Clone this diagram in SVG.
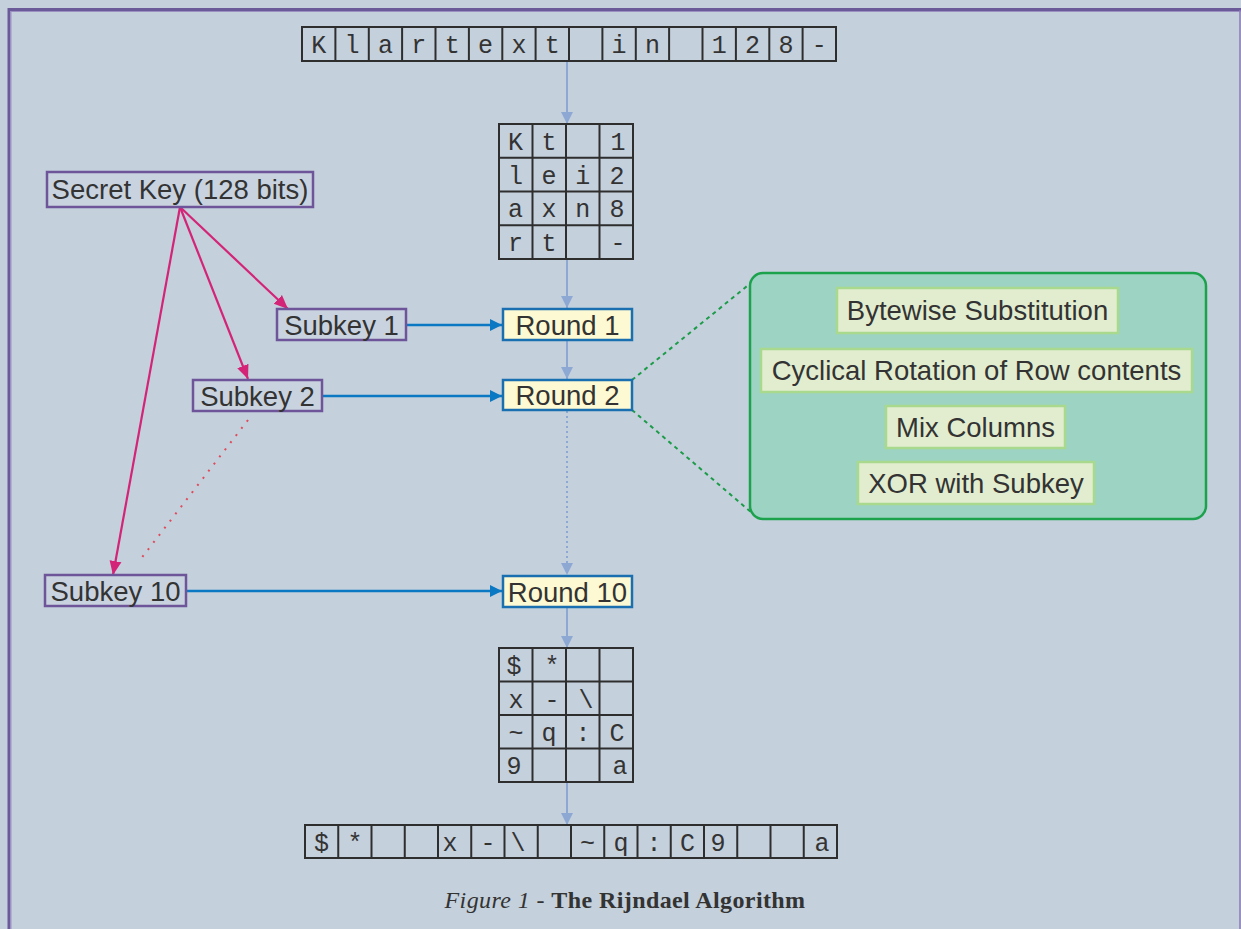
<svg xmlns="http://www.w3.org/2000/svg" width="1241" height="929" viewBox="0 0 1241 929">
<style>
.cell{fill:none;stroke:#2e2e2e;stroke-width:2}
.mono{font-family:"Liberation Mono","DejaVu Sans Mono",monospace;font-size:25px;fill:#333;text-anchor:middle}
.lbl{font-family:"Liberation Sans",Arial,sans-serif;font-size:27.5px;fill:#333;text-anchor:middle}
.key{fill:#c9d3df;stroke:#6e559a;stroke-width:2.5}
.round{fill:#fdf9d2;stroke:#1a6fb0;stroke-width:2.5}
.step{fill:#e2edcf;stroke:#a9d98c;stroke-width:2.5}
.flow{stroke:#8ea8d4;stroke-width:2;fill:none}
.feed{stroke:#0b78c4;stroke-width:2.5;fill:none}
.mag{stroke:#d42478;stroke-width:2.2;fill:none}
</style>
<defs>
<marker id="aLight" markerUnits="userSpaceOnUse" markerWidth="14" markerHeight="14" refX="12" refY="7" orient="auto"><path d="M0,1 L12,7 L0,13 z" fill="#8ea8d4"/></marker>
<marker id="aBlue" markerUnits="userSpaceOnUse" markerWidth="14" markerHeight="14" refX="12" refY="7" orient="auto"><path d="M0,1 L12,7 L0,13 z" fill="#0b78c4"/></marker>
<marker id="aMag" markerUnits="userSpaceOnUse" markerWidth="16" markerHeight="14" refX="14" refY="7" orient="auto"><path d="M0,1 L14,7 L0,13 z" fill="#d42478"/></marker>
</defs>
<rect x="0" y="0" width="1241" height="929" fill="#c4d0dc"/>
<path d="M9,929 V9.5 H1241" fill="none" stroke="#6a5a9a" stroke-width="3"/>
<path d="M11,929 V11.5 H1241" fill="none" stroke="#9c90c2" stroke-width="1"/>
<line x1="1240" y1="10" x2="1240" y2="929" stroke="#8a7cb4" stroke-width="1.5"/>

<g id="connectors">
<line class="flow" x1="567" y1="61" x2="567" y2="124" marker-end="url(#aLight)"/>
<line class="flow" x1="567" y1="259" x2="567" y2="308" marker-end="url(#aLight)"/>
<line class="flow" x1="567" y1="340" x2="567" y2="379" marker-end="url(#aLight)"/>
<line class="flow" x1="567" y1="411" x2="567" y2="575" stroke-dasharray="2 3" marker-end="url(#aLight)"/>
<line class="flow" x1="567" y1="607" x2="567" y2="648" marker-end="url(#aLight)"/>
<line class="flow" x1="567" y1="782" x2="567" y2="825" marker-end="url(#aLight)"/>
<line class="feed" x1="406" y1="325" x2="502" y2="325" marker-end="url(#aBlue)"/>
<line class="feed" x1="322" y1="396" x2="502" y2="396" marker-end="url(#aBlue)"/>
<line class="feed" x1="186" y1="591" x2="502" y2="591" marker-end="url(#aBlue)"/>
<line class="mag" x1="180" y1="207" x2="288" y2="309" marker-end="url(#aMag)"/>
<line class="mag" x1="180" y1="207" x2="248" y2="379" marker-end="url(#aMag)"/>
<line class="mag" x1="180" y1="207" x2="113" y2="575" marker-end="url(#aMag)"/>
<line x1="248" y1="420" x2="140" y2="560" stroke="#e04a5a" stroke-width="2" stroke-dasharray="2 7"/>
<line x1="632" y1="380" x2="752" y2="282" stroke="#1c9c48" stroke-width="2" stroke-dasharray="4 4"/>
<line x1="632" y1="410" x2="752" y2="513" stroke="#1c9c48" stroke-width="2" stroke-dasharray="4 4"/>
</g>

<g id="plaintext">
<rect class="cell" x="302" y="27" width="534" height="34"/>
<g class="cell">
<line x1="335.4" y1="27" x2="335.4" y2="61"/><line x1="368.8" y1="27" x2="368.8" y2="61"/><line x1="402.1" y1="27" x2="402.1" y2="61"/><line x1="435.5" y1="27" x2="435.5" y2="61"/><line x1="468.9" y1="27" x2="468.9" y2="61"/><line x1="502.3" y1="27" x2="502.3" y2="61"/><line x1="535.6" y1="27" x2="535.6" y2="61"/><line x1="569" y1="27" x2="569" y2="61"/><line x1="602.4" y1="27" x2="602.4" y2="61"/><line x1="635.8" y1="27" x2="635.8" y2="61"/><line x1="669.1" y1="27" x2="669.1" y2="61"/><line x1="702.5" y1="27" x2="702.5" y2="61"/><line x1="735.9" y1="27" x2="735.9" y2="61"/><line x1="769.3" y1="27" x2="769.3" y2="61"/><line x1="802.6" y1="27" x2="802.6" y2="61"/>
</g>
<g class="mono">
<text x="318.7" y="53">K</text><text x="352.1" y="53">l</text><text x="385.4" y="53">a</text><text x="418.8" y="53">r</text><text x="452.2" y="53">t</text><text x="485.6" y="53">e</text><text x="518.9" y="53">x</text><text x="552.3" y="53">t</text><text x="619.1" y="53">i</text><text x="652.4" y="53">n</text><text x="719.2" y="53">1</text><text x="752.6" y="53">2</text><text x="785.9" y="53">8</text><text x="819.3" y="53">-</text>
</g>
</g>

<g id="state-in">
<rect class="cell" x="499" y="124" width="134" height="135"/>
<g class="cell">
<line x1="532.5" y1="124" x2="532.5" y2="259"/><line x1="566" y1="124" x2="566" y2="259"/><line x1="599.5" y1="124" x2="599.5" y2="259"/>
<line x1="499" y1="157.75" x2="633" y2="157.75"/><line x1="499" y1="191.5" x2="633" y2="191.5"/><line x1="499" y1="225.25" x2="633" y2="225.25"/>
</g>
<g class="mono">
<text x="515.5" y="150">K</text><text x="549" y="150">t</text><text x="618" y="150">1</text>
<text x="515.5" y="184">l</text><text x="549" y="184">e</text><text x="582.7" y="184">i</text><text x="617" y="184">2</text>
<text x="515.5" y="217">a</text><text x="549" y="217">x</text><text x="582.7" y="217">n</text><text x="617" y="217">8</text>
<text x="515.5" y="251">r</text><text x="549" y="251">t</text><text x="618" y="251">-</text>
</g>
</g>

<g id="secret-key">
<rect class="key" x="47" y="172" width="266" height="35"/>
<text class="lbl" x="180" y="199">Secret Key (128 bits)</text>
</g>
<g id="subkey1">
<rect class="key" x="277" y="309" width="129" height="31"/>
<text class="lbl" x="341.5" y="334.5">Subkey 1</text>
</g>
<g id="subkey2">
<rect class="key" x="193" y="380" width="129" height="31"/>
<text class="lbl" x="257.5" y="405.5">Subkey 2</text>
</g>
<g id="subkey10">
<rect class="key" x="45" y="575" width="141" height="31"/>
<text class="lbl" x="115.5" y="600.5">Subkey 10</text>
</g>

<g id="round1">
<rect class="round" x="503" y="309" width="129" height="31"/>
<text class="lbl" x="567.5" y="334.5">Round 1</text>
</g>
<g id="round2">
<rect class="round" x="503" y="380" width="129" height="30"/>
<text class="lbl" x="567.5" y="405">Round 2</text>
</g>
<g id="round10">
<rect class="round" x="503" y="576" width="129" height="31"/>
<text class="lbl" x="567.5" y="601.5">Round 10</text>
</g>

<g id="round-detail">
<rect x="750" y="273" width="456" height="246" rx="13" fill="#9dd3c2" stroke="#1ca24c" stroke-width="2.5"/>
<rect class="step" x="837" y="288" width="281" height="45"/>
<text class="lbl" x="977.5" y="320">Bytewise Substitution</text>
<rect class="step" x="761" y="349" width="431" height="43"/>
<text class="lbl" x="976.5" y="380">Cyclical Rotation of Row contents</text>
<rect class="step" x="886" y="406" width="179" height="42"/>
<text class="lbl" x="975.5" y="437">Mix Columns</text>
<rect class="step" x="858" y="462" width="236" height="42"/>
<text class="lbl" x="976" y="493">XOR with Subkey</text>
</g>

<g id="state-out">
<rect class="cell" x="499" y="648" width="134" height="134"/>
<g class="cell">
<line x1="532.5" y1="648" x2="532.5" y2="782"/><line x1="566" y1="648" x2="566" y2="782"/><line x1="599.5" y1="648" x2="599.5" y2="782"/>
<line x1="499" y1="681.5" x2="633" y2="681.5"/><line x1="499" y1="715" x2="633" y2="715"/><line x1="499" y1="748.5" x2="633" y2="748.5"/>
</g>
<g class="mono">
<text x="514" y="674">$</text><text x="552" y="674">*</text>
<text x="516" y="708">x</text><text x="552" y="708">-</text><text x="586" y="708">\</text>
<text x="516" y="741">~</text><text x="549" y="741">q</text><text x="583" y="741">:</text><text x="617" y="741">C</text>
<text x="514" y="774">9</text><text x="620" y="774">a</text>
</g>
</g>

<g id="ciphertext">
<rect class="cell" x="305" y="825" width="532" height="33"/>
<g class="cell">
<line x1="338.25" y1="825" x2="338.25" y2="858"/><line x1="371.5" y1="825" x2="371.5" y2="858"/><line x1="404.75" y1="825" x2="404.75" y2="858"/><line x1="438" y1="825" x2="438" y2="858"/><line x1="471.25" y1="825" x2="471.25" y2="858"/><line x1="504.5" y1="825" x2="504.5" y2="858"/><line x1="537.75" y1="825" x2="537.75" y2="858"/><line x1="571" y1="825" x2="571" y2="858"/><line x1="604.25" y1="825" x2="604.25" y2="858"/><line x1="637.5" y1="825" x2="637.5" y2="858"/><line x1="670.75" y1="825" x2="670.75" y2="858"/><line x1="704" y1="825" x2="704" y2="858"/><line x1="737.25" y1="825" x2="737.25" y2="858"/><line x1="770.5" y1="825" x2="770.5" y2="858"/><line x1="803.75" y1="825" x2="803.75" y2="858"/>
</g>
<g class="mono">
<text x="321.6" y="851">$</text><text x="354.9" y="851">*</text><text x="450" y="851">x</text><text x="487.9" y="851">-</text><text x="518" y="851">\</text><text x="587.6" y="851">~</text><text x="620.9" y="851">q</text><text x="654.1" y="851">:</text><text x="687.4" y="851">C</text><text x="718" y="851">9</text><text x="822" y="851">a</text>
</g>
</g>

<g id="caption">
<text x="625" y="908" text-anchor="middle" font-family="'Liberation Serif','DejaVu Serif',serif" font-size="24" letter-spacing="0.4" fill="#333"><tspan font-style="italic">Figure 1</tspan> - <tspan font-weight="bold">The Rijndael Algorithm</tspan></text>
</g>
</svg>
